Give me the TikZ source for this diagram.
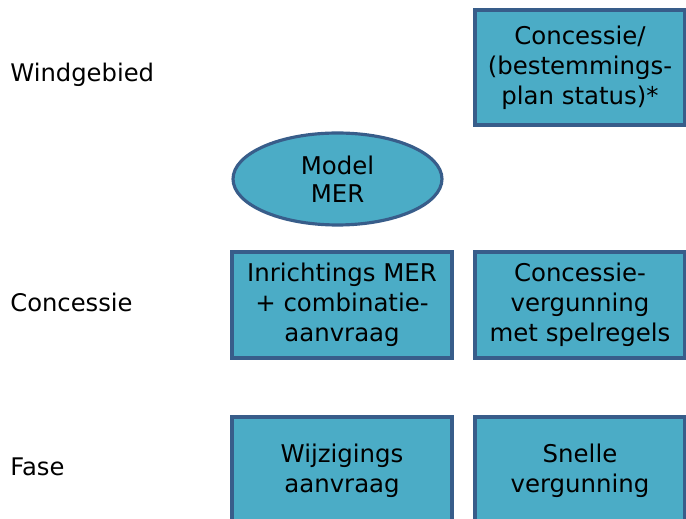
\documentclass[tikz,border=0pt]{standalone}
\usepackage{fontspec}
\setmainfont{DejaVu Sans}
\usetikzlibrary{shapes.geometric}
\definecolor{blokvul}{HTML}{4BACC6}
\definecolor{blokrand}{HTML}{385D8A}
\tikzset{blok/.style={draw=blokrand,fill=blokvul,line width=1.8pt,align=center,inner sep=0pt,font=\fontsize{13.9}{17}\selectfont}}
\tikzset{ovaal/.style={blok,ellipse,minimum width=4.18cm,minimum height=1.84cm,font=\fontsize{13.9}{16}\selectfont}}
\tikzset{fase/.style={anchor=west,inner sep=0pt,font=\fontsize{13.8}{17}\selectfont}}

\begin{document}
\begin{tikzpicture}[x=0.02cm,y=-0.02cm]
                    \useasboundingbox (0,0) rectangle (686,519);
                    \node[fase] (windgebied) at (10,75) {Windgebied};
                    \node[fase] (concessie) at (10,302) {Concessie};
                    \node[fase] (fase) at (10,467) {Fase};

                    \node[blok,minimum width=4.2cm,minimum height=2.3cm] (status) at (580,67.5) {Concessie/\\(bestemmings-\\plan status)*};
                    \node[ovaal] (model) at (337.5,179) {Model\\MER};

                    \node[blok,minimum width=4.4cm,minimum height=2.12cm] (inrichting) at (342,305) {Inrichtings MER\\+ combinatie-\\aanvraag};
                    \node[blok,minimum width=4.2cm,minimum height=2.12cm] (vergunning) at (580,305) {Concessie-\\vergunning\\met spelregels};

                    \node[blok,minimum width=4.4cm,minimum height=2.16cm] (wijziging) at (342,471) {Wijzigings\\aanvraag};
                    \node[blok,minimum width=4.2cm,minimum height=2.16cm] (snelle) at (580,471) {Snelle\\vergunning};
                \end{tikzpicture}
\end{document}
